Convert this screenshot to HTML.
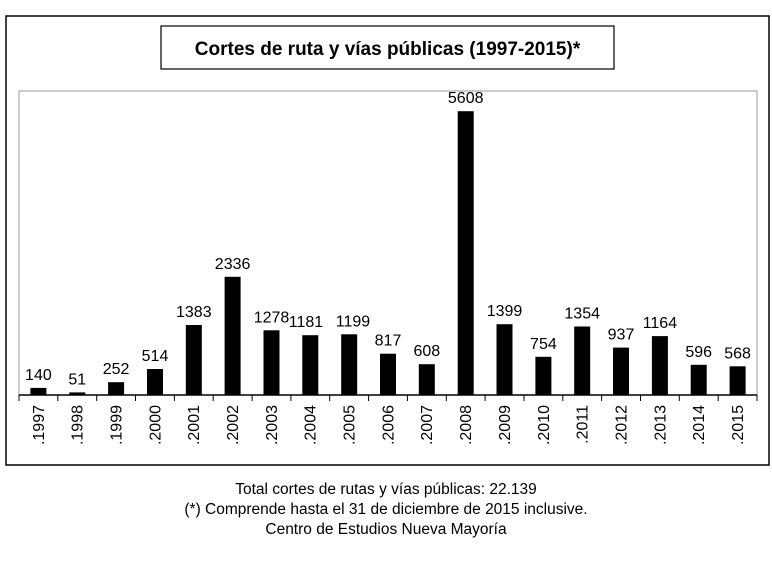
<!DOCTYPE html>
<html><head><meta charset="utf-8"><style>
body{margin:0;background:#fff;width:772px;height:558px;overflow:hidden;font-family:"Liberation Sans",sans-serif}
</style></head><body>
<svg width="772" height="558" xmlns="http://www.w3.org/2000/svg" font-family="Liberation Sans, sans-serif">
<rect x="6" y="16" width="763" height="449" fill="#fff" stroke="#000" stroke-width="1.5"/>
<rect x="161" y="26" width="453" height="43" fill="#fff" stroke="#000" stroke-width="1.2"/>
<text x="387.5" y="55" text-anchor="middle" font-size="19" font-weight="bold">Cortes de ruta y vías públicas (1997-2015)*</text>
<rect x="19" y="91" width="738" height="304" fill="#fff" stroke="#999" stroke-width="1"/>
<line x1="19" y1="395" x2="757" y2="395" stroke="#000" stroke-width="1.5"/>
<g stroke="#000" stroke-width="1">
<line x1="19" y1="395" x2="19" y2="401"/><line x1="57.8" y1="395" x2="57.8" y2="401"/><line x1="96.7" y1="395" x2="96.7" y2="401"/><line x1="135.5" y1="395" x2="135.5" y2="401"/><line x1="174.4" y1="395" x2="174.4" y2="401"/><line x1="213.2" y1="395" x2="213.2" y2="401"/><line x1="252.1" y1="395" x2="252.1" y2="401"/><line x1="290.9" y1="395" x2="290.9" y2="401"/><line x1="329.7" y1="395" x2="329.7" y2="401"/><line x1="368.6" y1="395" x2="368.6" y2="401"/><line x1="407.4" y1="395" x2="407.4" y2="401"/><line x1="446.3" y1="395" x2="446.3" y2="401"/><line x1="485.1" y1="395" x2="485.1" y2="401"/><line x1="524" y1="395" x2="524" y2="401"/><line x1="562.8" y1="395" x2="562.8" y2="401"/><line x1="601.6" y1="395" x2="601.6" y2="401"/><line x1="640.5" y1="395" x2="640.5" y2="401"/><line x1="679.3" y1="395" x2="679.3" y2="401"/><line x1="718.2" y1="395" x2="718.2" y2="401"/><line x1="757" y1="395" x2="757" y2="401"/>
</g>
<g fill="#000">
<rect x="30.4" y="387.9" width="16" height="7.1"/>
<rect x="69.3" y="392.4" width="16" height="2.6"/>
<rect x="108.1" y="382.2" width="16" height="12.8"/>
<rect x="147" y="369" width="16" height="26"/>
<rect x="185.8" y="325" width="16" height="70"/>
<rect x="224.6" y="276.8" width="16" height="118.2"/>
<rect x="263.5" y="330.3" width="16" height="64.7"/>
<rect x="302.3" y="335.2" width="16" height="59.8"/>
<rect x="341.2" y="334.3" width="16" height="60.7"/>
<rect x="380" y="353.7" width="16" height="41.3"/>
<rect x="418.8" y="364.2" width="16" height="30.8"/>
<rect x="457.7" y="111.2" width="16" height="283.8"/>
<rect x="496.5" y="324.2" width="16" height="70.8"/>
<rect x="535.4" y="356.8" width="16" height="38.2"/>
<rect x="574.2" y="326.5" width="16" height="68.5"/>
<rect x="613" y="347.6" width="16" height="47.4"/>
<rect x="651.9" y="336.1" width="16" height="58.9"/>
<rect x="690.7" y="364.8" width="16" height="30.2"/>
<rect x="729.6" y="366.3" width="16" height="28.7"/>
</g>
<g font-size="16" text-anchor="middle">
<text x="38.4" y="379.9">140</text>
<text x="77.3" y="384.4">51</text>
<text x="116.1" y="374.2">252</text>
<text x="155" y="361">514</text>
<text x="193.8" y="317">1383</text>
<text x="232.6" y="268.8">2336</text>
<text x="271.5" y="322.3">1278</text>
<text x="306" y="327.2">1181</text>
<text x="353" y="326.3">1199</text>
<text x="388" y="345.7">817</text>
<text x="426.8" y="356.2">608</text>
<text x="465.7" y="103.2">5608</text>
<text x="504.5" y="316.2">1399</text>
<text x="543.4" y="348.8">754</text>
<text x="582.2" y="318.5">1354</text>
<text x="621" y="339.6">937</text>
<text x="659.9" y="328.1">1164</text>
<text x="698.7" y="356.8">596</text>
<text x="737.6" y="358.3">568</text>
</g>
<g font-size="16" text-anchor="end">
<text transform="translate(43.8,405) rotate(-90)">.1997</text>
<text transform="translate(82.7,405) rotate(-90)">.1998</text>
<text transform="translate(121.5,405) rotate(-90)">.1999</text>
<text transform="translate(160.4,405) rotate(-90)">.2000</text>
<text transform="translate(199.2,405) rotate(-90)">.2001</text>
<text transform="translate(238,405) rotate(-90)">.2002</text>
<text transform="translate(276.9,405) rotate(-90)">.2003</text>
<text transform="translate(315.7,405) rotate(-90)">.2004</text>
<text transform="translate(354.6,405) rotate(-90)">.2005</text>
<text transform="translate(393.4,405) rotate(-90)">.2006</text>
<text transform="translate(432.2,405) rotate(-90)">.2007</text>
<text transform="translate(471.1,405) rotate(-90)">.2008</text>
<text transform="translate(509.9,405) rotate(-90)">.2009</text>
<text transform="translate(548.8,405) rotate(-90)">.2010</text>
<text transform="translate(587.6,405) rotate(-90)">.2011</text>
<text transform="translate(626.4,405) rotate(-90)">.2012</text>
<text transform="translate(665.3,405) rotate(-90)">.2013</text>
<text transform="translate(704.1,405) rotate(-90)">.2014</text>
<text transform="translate(743,405) rotate(-90)">.2015</text>
</g>
<text x="386" y="494" text-anchor="middle" font-size="15.5">Total cortes de rutas y vías públicas: 22.139</text>
<text x="386" y="514" text-anchor="middle" font-size="15.5">(*) Comprende hasta el 31 de diciembre de 2015 inclusive.</text>
<text x="386" y="534" text-anchor="middle" font-size="15.5">Centro de Estudios Nueva Mayoría</text>
</svg>
</body></html>
